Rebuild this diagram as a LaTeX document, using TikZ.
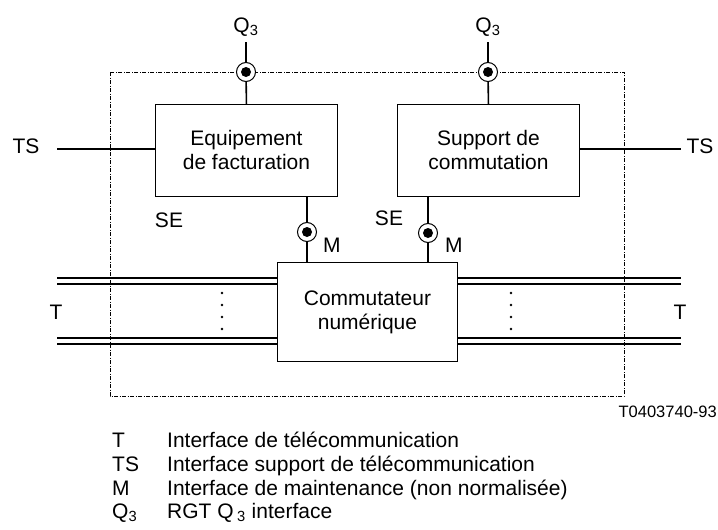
\documentclass[tikz,border=0pt]{standalone}
\usepackage{fontspec}
\setmainfont{Liberation Sans}
\begin{document}
\begin{tikzpicture}[x=1pt,y=-1pt,
  txt/.style={inner sep=0pt, font=\fontsize{21}{24}\selectfont},
  smalltxt/.style={inner sep=0pt, font=\fontsize{16.5}{19}\selectfont},
  box/.style={draw, line width=0.9pt, align=center, inner sep=0pt,
    font=\fontsize{21}{24}\selectfont},
  ln/.style={line width=1.6pt},
  frame/.style={line width=1pt, dash pattern=on 4pt off 1.5pt on 1pt off 1.5pt},
  port/.style={circle, draw, line width=1pt, fill=white, minimum size=19pt, inner sep=0pt}]
\useasboundingbox (0,0) rectangle (718,530);

% frame
\draw[frame] (110,72) rectangle (624,396);

% boxes
\node[box, minimum width=182pt, minimum height=92pt, anchor=north west] (ef) at (155,104) {Equipement\\de facturation};
\node[box, minimum width=182pt, minimum height=92pt, anchor=north west] (sc) at (397,104) {Support de\\commutation};
\node[box, minimum width=180pt, minimum height=99pt, anchor=north west] (cn) at (277,262) {Commutateur\\numérique};

% Q3 ports
\node[port] (q1) at (246,72) {};
\node[port] (q2) at (488,72) {};
\coordinate (q1t) at (246,42);
\coordinate (q2t) at (488,42);
\draw[ln] (q1t) -- (q1);
\draw[ln] (q1) -- (ef.north);
\draw[ln] (q2t) -- (q2);
\draw[ln] (q2) -- (sc.north);
\node[txt, anchor=base] (q1l) at (246,32) {Q\textsubscript{3}};
\node[txt, anchor=base] (q2l) at (488,32) {Q\textsubscript{3}};

% M ports
\node[port] (m1) at (307,232) {};
\node[port] (m2) at (428,233) {};
\draw[ln] (ef.south -| m1) -- (m1);
\draw[ln] (m1) -- (cn.north -| m1);
\draw[ln] (sc.south -| m2) -- (m2);
\draw[ln] (m2) -- (cn.north -| m2);
\node[txt, anchor=base west] (m1l) at (323,252) {M};
\node[txt, anchor=base west] (m2l) at (445,252) {M};
\node[txt, anchor=base] (se1) at (169,227) {SE};
\node[txt, anchor=base] (se2) at (389,225) {SE};

% port dots
\foreach \p in {q1,q2,m1,m2}{
  \fill (\p.center) circle (5pt);
}

% TS lines
\coordinate (tsl) at (57,149);
\coordinate (tsr) at (681,149);
\draw[ln] (tsl) -- (tsl -| ef.west);
\draw[ln] (sc.east |- tsr) -- (tsr);
\node[txt, anchor=base] (tsll) at (26,153) {TS};
\node[txt, anchor=base] (tsrl) at (700,153) {TS};

% T double lines
\foreach \yy [count=\i] in {278,284,338,344}{
  \coordinate (tl\i) at (57,\yy);
  \coordinate (tr\i) at (681,\yy);
  \draw[ln] (tl\i) -- (tl\i -| cn.west);
  \draw[ln] (cn.east |- tr\i) -- (tr\i);
}
\node[txt, anchor=base] (tll) at (56,319) {T};
\node[txt, anchor=base] (trl) at (680,319) {T};

% dots
\foreach \yy in {293,305,317,329}{
  \fill (222,\yy) circle (1.3pt);
  \fill (511,\yy) circle (1.3pt);
}

% reference
\node[smalltxt, anchor=base east] (ref) at (717,417) {T0403740-93};

% legend
\node[txt, anchor=base west] (k1) at (112,447) {T};
\node[txt, anchor=base west] (v1) at (167,447) {Interface de télécommunication};
\node[txt, anchor=base west] (k2) at (112,471) {TS};
\node[txt, anchor=base west] (v2) at (167,471) {Interface support de télécommunication};
\node[txt, anchor=base west] (k3) at (112,495) {M};
\node[txt, anchor=base west] (v3) at (167,495) {Interface de maintenance (non normalisée)};
\node[txt, anchor=base west] (k4) at (112,518) {Q\textsubscript{3}};
\node[txt, anchor=base west] (v4) at (167,518) {RGT Q\,\textsubscript{3} interface};
\end{tikzpicture}
\end{document}
